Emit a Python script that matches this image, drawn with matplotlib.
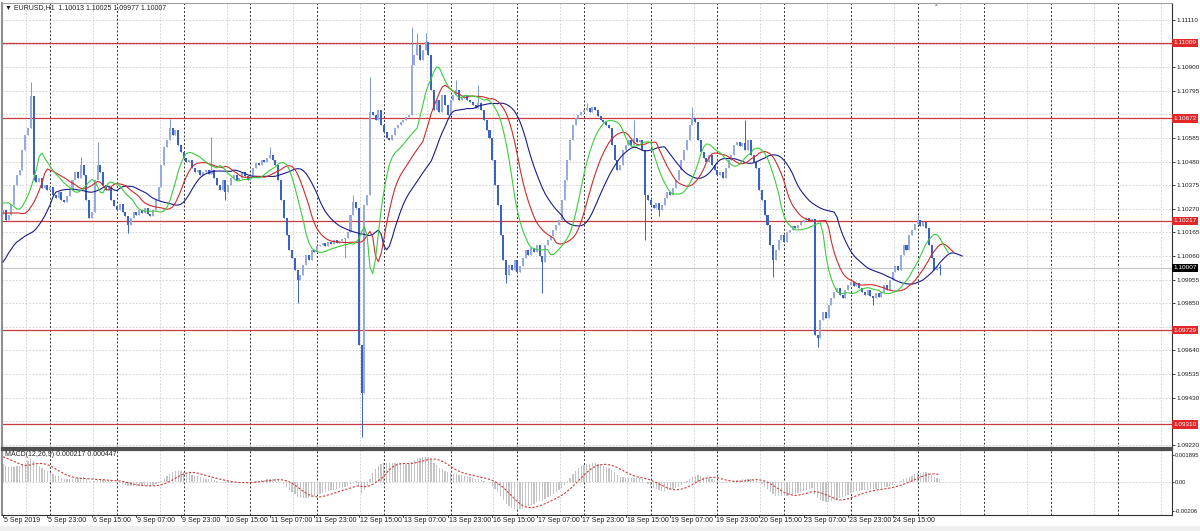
import numpy as np
import matplotlib
matplotlib.use("Agg")
import matplotlib.pyplot as plt
from matplotlib.transforms import blended_transform_factory
from matplotlib.patches import Rectangle

# ---------------- data (prices as points above 1.09000, i.e. price = 1.09 + v/1e5) ----------------
BASE = 1.09
first_open_pts = 1245
close_pts = [
    1265, 1220, 1243, 1287, 1376, 1420, 1443, 1532, 1598, 1630,
    1770, 1420, 1389, 1407, 1362, 1376, 1354, 1367, 1331, 1318,
    1345, 1309, 1300, 1327, 1354, 1398, 1434, 1407, 1465, 1420,
    1309, 1229, 1256, 1398, 1465, 1434, 1376, 1354, 1367, 1309,
    1282, 1265, 1291, 1256, 1238, 1198, 1229, 1256, 1243, 1265,
    1251, 1274, 1247, 1238, 1265, 1309, 1367, 1465, 1545, 1576,
    1630, 1598, 1620, 1554, 1523, 1496, 1478, 1487, 1452, 1434,
    1443, 1420, 1434, 1443, 1425, 1443, 1407, 1376, 1354, 1398,
    1345, 1376, 1407, 1420, 1398, 1407, 1434, 1416, 1398, 1411,
    1452, 1474, 1465, 1487, 1478, 1496, 1509, 1487, 1465, 1398,
    1309, 1229, 1153, 1087, 1051, 998, 953, 976, 1020, 1064,
    1042, 1087, 1078, 1104, 1109, 1118, 1104, 1122, 1113, 1131,
    1118, 1127, 1136, 1140, 1167, 1243, 1300, 1274, 664, 450,
    1287, 1331, 1701, 1687, 1665, 1709, 1643, 1612, 1585, 1576,
    1598, 1630, 1643, 1656, 1665, 1678, 1687, 1910, 1954, 1999,
    1932, 1976, 2012, 1954, 1798, 1710, 1754, 1701, 1776, 1732,
    1687, 1754, 1776, 1798, 1754, 1763, 1776, 1754, 1745, 1732,
    1718, 1741, 1710, 1665, 1620, 1585, 1487, 1376, 1287, 1153,
    1042, 976, 1020, 998, 1042, 989, 1016, 1051, 1087, 1064,
    1096, 1078, 1109, 1060, 1033, 1109, 1131, 1149, 1176, 1198,
    1220, 1309, 1398, 1487, 1576, 1643, 1674, 1687, 1701, 1709,
    1718, 1701, 1723, 1709, 1683, 1665, 1656, 1643, 1630, 1554,
    1487, 1443, 1465, 1532, 1554, 1576, 1554, 1585, 1567, 1576,
    1532, 1331, 1309, 1287, 1274, 1296, 1265, 1287, 1318, 1345,
    1331, 1362, 1398, 1443, 1487, 1532, 1576, 1643, 1674, 1656,
    1576, 1523, 1496, 1478, 1509, 1465, 1443, 1420, 1434, 1407,
    1452, 1487, 1509, 1554, 1567, 1549, 1563, 1532, 1576, 1509,
    1478, 1452, 1354, 1309, 1243, 1198, 1109, 1042, 1087, 1131,
    1153, 1122, 1167, 1176, 1194, 1185, 1198, 1212, 1220, 1229,
    1216, 1225, 708, 695, 775, 811, 784, 842, 873, 900,
    918, 887, 873, 909, 931, 944, 927, 940, 918, 900,
    887, 909, 882, 873, 896, 878, 900, 931, 909, 953,
    989, 1016, 998, 1064, 1109, 1087, 1153, 1176, 1202, 1220,
    1194, 1212, 1185, 1109, 1051, 998, 1013, 1007,
]
# notable wick extremes (bar index -> points)
high_pts = {10: 1834, 28: 1500, 34: 1567, 60: 1670, 75: 1589, 96: 1545, 126: 1330,
            132: 1856, 147: 2079, 149: 2052, 152: 2052, 163: 1843, 171: 1820,
            210: 1740, 227: 1665, 248: 1723, 267: 1665, 329: 1242, 337: 1025}
low_pts = {11: 1398, 45: 1162, 80: 1309, 106: 851, 123: 1051, 129: 254, 181: 940,
           194: 895, 231: 1131, 236: 1238, 277: 966, 293: 655, 313: 842, 337: 977}

jaw_lead_pts = [1033, 1051, 1073, 1091, 1109, 1122, 1131, 1140]
teeth_lead_pts = [1251, 1251, 1251, 1251, 1251]
lips_lead_pts = [1296, 1296, 1296]
macd_ema12_seed_pts = 1240
macd_ema26_seed_pts = 1110
macd_prior = 0.0018

levels = [1.11009, 1.10672, 1.10217, 1.09729, 1.09310]
tick_prices = [1.09220 + 0.00105 * k for k in range(19)]
hidden_ticks = [1, 5, 14, 17]
last_price = 1.10007

xlabels = ['5 Sep 2019', '5 Sep 23:00', '6 Sep 15:00', '9 Sep 07:00', '9 Sep 23:00',
           '10 Sep 15:00', '11 Sep 07:00', '11 Sep 23:00', '12 Sep 15:00', '13 Sep 07:00',
           '13 Sep 23:00', '16 Sep 15:00', '17 Sep 07:00', '17 Sep 23:00', '18 Sep 15:00',
           '19 Sep 07:00', '19 Sep 23:00', '20 Sep 15:00', '23 Sep 07:00', '23 Sep 23:00',
           '24 Sep 15:00']
label_step = 16
title = "EURUSD,H1  1.10013 1.10025 1.09977 1.10007"
macd_title = "MACD(12,26,9) 0.000217 0.000447"

# ---------------- derived series ----------------
c = BASE + np.array(close_pts) / 1e5
n = len(c)
o = np.concatenate([[BASE + first_open_pts / 1e5], c[:-1]])
o[-1] = 1.10013
h = np.maximum(o, c)
l = np.minimum(o, c)
for k, v in high_pts.items():
    h[k] = BASE + v / 1e5
for k, v in low_pts.items():
    l[k] = BASE + v / 1e5
med = (h + l) / 2
idx = np.arange(n)


def smma(series, period, seed):
    out = np.empty(len(series))
    prev = seed
    for i, v in enumerate(series):
        prev = (prev * (period - 1) + v) / period
        out[i] = prev
    return out


def ema(series, period, seed):
    a = 2.0 / (period + 1)
    out = np.empty(len(series))
    prev = seed
    for i, v in enumerate(series):
        prev = prev + a * (v - prev)
        out[i] = prev
    return out


jaw = smma(med, 13, BASE + jaw_lead_pts[-1] / 1e5)
teeth = smma(med, 8, BASE + teeth_lead_pts[-1] / 1e5)
lips = smma(med, 5, BASE + lips_lead_pts[-1] / 1e5)
jaw_x = np.concatenate([np.arange(8), idx + 8])
jaw_y = np.concatenate([BASE + np.array(jaw_lead_pts) / 1e5, jaw])
teeth_x = np.concatenate([np.arange(5), idx + 5])
teeth_y = np.concatenate([BASE + np.array(teeth_lead_pts) / 1e5, teeth])
lips_x = np.concatenate([np.arange(3), idx + 3])
lips_y = np.concatenate([BASE + np.array(lips_lead_pts) / 1e5, lips])

macd = ema(c, 12, BASE + macd_ema12_seed_pts / 1e5) - ema(c, 26, BASE + macd_ema26_seed_pts / 1e5)
padded = np.concatenate([[macd_prior] * 8, macd])
signal = np.convolve(padded, np.ones(9) / 9, mode='valid')

# ---------------- figure geometry (pixels) ----------------
W, H = 1200, 531
px_per_bar = 2.78
x0_px = 3.0
ax_left_px, ax_right_px = 2, 1172
main_top_px, main_bot_px = 3, 448
macd_top_px, macd_bot_px = 450, 515


def bar_of_px(px):
    return (px - x0_px) / px_per_bar


def price_of_px(py):
    return 1.11110 - (py - 20) * 0.0000445


def macd_of_px(py):
    return (481.7 - py) * 6.975e-5


fig = plt.figure(figsize=(W / 100, H / 100), dpi=100)
fig.patch.set_facecolor('white')
FONT = ['Liberation Sans', 'DejaVu Sans']
FS = 5.0
FS_AX = 4.6

ax = fig.add_axes([ax_left_px / W, 1 - main_bot_px / H, (ax_right_px - ax_left_px) / W,
                   (main_bot_px - main_top_px) / H])
ax2 = fig.add_axes([ax_left_px / W, 1 - macd_bot_px / H, (ax_right_px - ax_left_px) / W,
                    (macd_bot_px - macd_top_px) / H], sharex=ax)

xmin, xmax = bar_of_px(ax_left_px), bar_of_px(ax_right_px)
ax.set_xlim(xmin, xmax)
ax.set_ylim(price_of_px(main_bot_px), price_of_px(main_top_px))
ax2.set_ylim(macd_of_px(macd_bot_px), macd_of_px(macd_top_px))

for a in (ax, ax2):
    a.set_facecolor('white')
    a.tick_params(axis='x', which='both', bottom=False, labelbottom=False, length=0)
    for s in a.spines.values():
        s.set_color('#303030')
        s.set_linewidth(0.8)
    a.spines['left'].set_color('#909090')
    a.spines['left'].set_linewidth(1.5)
ax.spines['bottom'].set_linewidth(1.6)
ax.spines['bottom'].set_color('#505050')
ax2.spines['top'].set_linewidth(1.6)
ax2.spines['top'].set_color('#505050')
ax.spines['top'].set_color('#a0a0a0')

# grid: horizontal
for tp in tick_prices:
    ax.axhline(tp, color='#cccccc', lw=0.6, ls=(0, (2, 2)), zorder=0)
ax2.axhline(0, color='#cccccc', lw=0.6, ls=(0, (2, 2)), zorder=0)
# grid: vertical light lines and dark day separators
for a in (ax, ax2):
    for k in range(-2, 20):
        xv = 32.4 + 24 * k
        if xmin < xv < xmax:
            a.axvline(xv, color='#cccccc', lw=0.6, ls=(0, (2, 2)), zorder=0)
        xd = 17 + 24 * k
        if xmin < xd < xmax:
            a.axvline(xd, color='#303030', lw=0.7, ls=(0, (2, 2)), zorder=0.5)

# support / resistance levels
for lv in levels:
    ax.axhline(lv, color='#c83c3c', lw=0.9, zorder=1)
ax.axhline(last_price, color='#c8c8c8', lw=0.9, zorder=0.8)

# candles
bull = c >= o
bear_col, bull_col = '#3b61c6', '#97abe2'
cols = np.where(bull, bull_col, bear_col)
wick_cols = np.where(bull, '#7d95d8', bear_col)
ax.vlines(idx, l, h, colors=wick_cols, lw=0.7, zorder=2)
body_bottom = np.minimum(o, c)
body_h = np.maximum(np.abs(c - o), 0.000012)
ax.bar(idx, body_h, bottom=body_bottom, width=0.72, color=cols, edgecolor='none', zorder=3)

# alligator
ax.plot(jaw_x, jaw_y, color='#1c1c8a', lw=0.8, zorder=4)
ax.plot(teeth_x, teeth_y, color='#d02a2a', lw=0.8, zorder=4)
ax.plot(lips_x, lips_y, color='#3ccc3c', lw=0.8, zorder=4)

# MACD
ax2.bar(idx, macd, width=0.45, color='#c4c4c4', zorder=2)
ax2.plot(idx, signal, color='#d03c3c', lw=0.8, ls=(0, (2, 1.5)), zorder=3)

# right price axis
ax.yaxis.tick_right()
vis_ticks = [tp for k, tp in enumerate(tick_prices) if k not in hidden_ticks]
ax.set_yticks(vis_ticks)
ax.set_yticklabels([f'{tp:.5f}' for tp in vis_ticks], fontsize=FS_AX, family=FONT, color='#202020')
ax.tick_params(axis='y', direction='out', length=2.0, width=0.6, pad=1.0, colors='#202020')
for lv in levels:
    ax.text(1.0012, lv, f'{lv:.5f}', transform=ax.get_yaxis_transform(), fontsize=FS_AX,
            family=FONT, color='white', va='center', ha='left', zorder=10, clip_on=False,
            bbox=dict(facecolor='#e02828', edgecolor='none', pad=1.2))
ax.text(1.0012, last_price, f'{last_price:.5f}', transform=ax.get_yaxis_transform(), fontsize=FS_AX,
        family=FONT, color='white', va='center', ha='left', zorder=10, clip_on=False,
        bbox=dict(facecolor='#000000', edgecolor='none', pad=1.2))

ax2.yaxis.tick_right()
macd_ticks = [0.001895, 0.0, -0.00206]
ax2.set_yticks(macd_ticks)
ax2.set_yticklabels(['0.001895', '0.00', '-0.00206'], fontsize=4.2, family=FONT, color='#202020')
ax2.tick_params(axis='y', direction='out', length=1.5, width=0.6, pad=0.8, colors='#202020')

# titles
fig.text(5 / W, 1 - 8 / H, '\u25bc ' + title, fontsize=FS, family=FONT, color='#202020',
         va='center', ha='left')
fig.text(5 / W, 1 - 455 / H, macd_title, fontsize=FS, family=FONT, color='#202020',
         va='center', ha='left')
fig.text(935 / W, 1 - 4 / H, '\u25b2', fontsize=3.5, family=FONT, color='#a0a0a0',
         va='center', ha='center')

# time labels
tr = blended_transform_factory(ax2.transData, fig.transFigure)
for k, lab in enumerate(xlabels):
    xb = k * label_step
    ax2.text(xb + 0.3, 1 - 521 / H, lab, transform=tr, fontsize=FS, family=FONT,
             color='#202020', va='center', ha='left', clip_on=False)
    ax2.plot([xb, xb], [1 - macd_bot_px / H, 1 - (macd_bot_px + 2) / H], transform=tr,
             color='#303030', lw=0.6, clip_on=False)

fig.patches.append(Rectangle((0, 0), 1, 5 / H, transform=fig.transFigure,
                             facecolor='#efefef', edgecolor='none'))

fig.savefig('out.png', dpi=100, facecolor='white')
